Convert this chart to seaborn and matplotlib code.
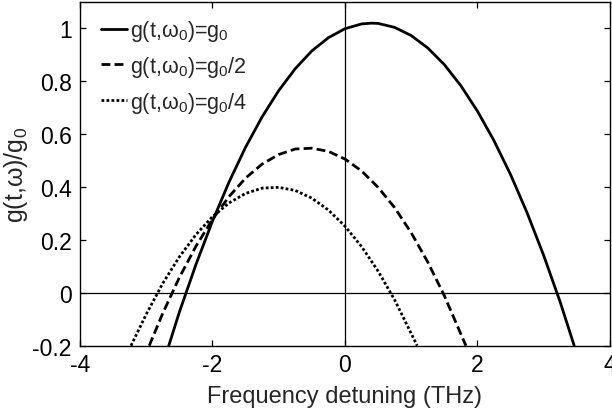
import matplotlib
matplotlib.use("Agg")
import matplotlib.pyplot as plt
import seaborn as sns
import pandas as pd

# Values
x_full = [-2.66, -2.5, -2.25, -2.0, -1.75, -1.5, -1.25, -1.0, -0.75, -0.5, -0.25,
          0.0, 0.25, 0.4, 0.5, 0.75, 1.0, 1.25, 1.5, 1.75, 2.0, 2.25, 2.5, 2.75,
          3.0, 3.25, 3.46]
y_full = [-0.2, -0.073, 0.107, 0.271, 0.419, 0.551, 0.666, 0.765, 0.848, 0.915, 0.965,
          0.999, 1.017, 1.02, 1.019, 1.004, 0.973, 0.926, 0.863, 0.783, 0.687, 0.575,
          0.447, 0.302, 0.141, -0.036, -0.2]

x_half = [-2.955, -2.75, -2.5, -2.25, -2.0, -1.75, -1.5, -1.25, -1.0, -0.75, -0.5,
          -0.25, 0.0, 0.25, 0.5, 0.75, 1.0, 1.25, 1.5, 1.825]
y_half = [-0.2, -0.077, 0.058, 0.176, 0.278, 0.364, 0.434, 0.487, 0.523, 0.544, 0.547,
          0.535, 0.506, 0.461, 0.399, 0.322, 0.227, 0.116, -0.011, -0.2]

x_quarter = [-3.23, -3.0, -2.75, -2.5, -2.25, -2.0, -1.75, -1.5, -1.25, -1.0, -0.75,
             -0.5, -0.25, 0.0, 0.25, 0.5, 0.75, 1.09]
y_quarter = [-0.2, -0.081, 0.036, 0.136, 0.220, 0.288, 0.340, 0.376, 0.396, 0.399, 0.387,
             0.358, 0.313, 0.252, 0.175, 0.082, -0.027, -0.2]

labels = [r"g(t,ω$\mathregular{_0}$)=g$\mathregular{_0}$",
          r"g(t,ω$\mathregular{_0}$)=g$\mathregular{_0}$/2",
          r"g(t,ω$\mathregular{_0}$)=g$\mathregular{_0}$/4"]
x_ticks = [-4, -2, 0, 2, 4]
y_ticks = [-0.2, 0, 0.2, 0.4, 0.6, 0.8, 1]
y_ticklabels = ["-0.2", "0", "0.2", "0.4", "0.6", "0.8", "1"]

sns.set_style("ticks")
plt.rcParams["font.family"] = ["Liberation Sans", "DejaVu Sans"]

fig = plt.figure(figsize=(6.12, 4.10), dpi=100)
ax = fig.add_axes([0.1307, 0.1544, 0.866, 0.8383])

styles = ["-", (0, (3.2, 1.5)), (0, (1.0, 0.8))]
for xs, ys, lab, ls in zip([x_full, x_half, x_quarter],
                           [y_full, y_half, y_quarter], labels, styles):
    df = pd.DataFrame({"x": xs, "y": ys})
    sns.lineplot(data=df, x="x", y="y", ax=ax, color="black", linewidth=2.0,
                 linestyle=ls, label=lab, sort=False)

ax.axhline(0, color="black", linewidth=0.9, zorder=1)
ax.axvline(0, color="black", linewidth=0.9, zorder=1)

ax.set_xlim(-4, 4)
ax.set_ylim(-0.2, 1.1)
ax.set_xticks(x_ticks)
ax.set_xticklabels([str(t) for t in x_ticks])
ax.set_yticks(y_ticks)
ax.set_yticklabels(y_ticklabels)
ax.tick_params(direction="in", top=True, right=True, labelsize=16.5, length=4,
               width=0.9, colors="black")
ax.tick_params(axis="x", pad=5.5)
ax.tick_params(axis="y", pad=6)
for s in ax.spines.values():
    s.set_linewidth(1.0)
    s.set_color("black")
ax.set_xlabel("Frequency detuning (THz)", fontsize=17, labelpad=6)
ax.set_ylabel(r"g(t,ω)/g$\mathregular{_0}$", fontsize=18, labelpad=2)

leg = ax.legend(loc="upper left", frameon=False, fontsize=15.5, handlelength=1.2,
                handletextpad=0.15, labelspacing=0.5, borderaxespad=0.0,
                borderpad=0.0, bbox_to_anchor=(0.04, 0.953))

fig.savefig("out.png", dpi=100)
